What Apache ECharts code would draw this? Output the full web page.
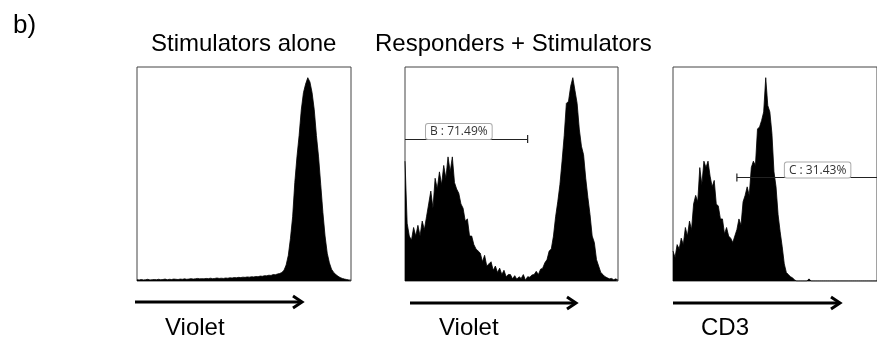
<!DOCTYPE html>
<html><head><meta charset="utf-8">
<script src="https://cdn.jsdelivr.net/npm/echarts@6/dist/echarts.min.js"></script>
<style>html,body{margin:0;padding:0;background:#fff}#c{width:877px;height:339px}</style>
</head><body><div id="c"></div>
<script>
// ---- data ----
const panelLetter = 'b)';
const panelTitles = ['Stimulators alone', 'Responders + Stimulators'];
const axisNames = ['Violet', 'Violet', 'CD3'];
const bins = Array.from({length: 100}, (_, i) => String(i));

// Stimulators alone (Violet) – normalised counts per channel
const stimAlone = [
  0.006,0.005,0.007,0.005,0.006,0.008,0.005,0.006,0.007,0.006,
  0.008,0.006,0.007,0.009,0.006,0.008,0.007,0.009,0.008,0.007,
  0.009,0.008,0.010,0.008,0.009,0.011,0.009,0.010,0.012,0.010,
  0.011,0.010,0.012,0.011,0.013,0.011,0.012,0.014,0.012,0.013,
  0.012,0.014,0.013,0.015,0.014,0.016,0.015,0.017,0.016,0.018,
  0.017,0.019,0.018,0.020,0.019,0.021,0.020,0.023,0.022,0.025,
  0.024,0.027,0.026,0.030,0.029,0.033,0.035,0.040,0.050,0.075,
  0.12,0.20,0.30,0.46,0.58,0.68,0.80,0.88,0.92,0.95,
  0.93,0.88,0.80,0.68,0.58,0.45,0.32,0.21,0.13,0.085,
  0.055,0.040,0.030,0.022,0.016,0.012,0.009,0.007,0.005,0.004
];
// Responders + Stimulators (Violet)
const respViolet = [
  0.56,0.27,0.21,0.19,0.25,0.21,0.26,0.21,0.28,0.24,
  0.30,0.36,0.42,0.34,0.48,0.43,0.51,0.45,0.54,0.48,
  0.58,0.51,0.58,0.46,0.43,0.41,0.36,0.34,0.28,0.29,
  0.21,0.21,0.17,0.15,0.14,0.13,0.09,0.12,0.07,0.08,
  0.09,0.05,0.07,0.04,0.06,0.03,0.05,0.02,0.03,0.03,
  0.01,0.025,0.008,0.02,0.012,0.03,0.004,0.02,0.018,0.028,
  0.03,0.045,0.03,0.055,0.06,0.085,0.10,0.14,0.15,0.21,
  0.30,0.37,0.45,0.56,0.68,0.83,0.84,0.91,0.95,0.89,
  0.83,0.71,0.63,0.59,0.48,0.39,0.31,0.21,0.18,0.10,
  0.07,0.04,0.03,0.02,0.015,0.01,0.012,0.006,0.01,0.004
];
// Responders + Stimulators (CD3)
const respCD3 = [
  0.14,0.11,0.17,0.15,0.20,0.17,0.25,0.21,0.28,0.24,
  0.36,0.40,0.37,0.53,0.45,0.56,0.53,0.56,0.49,0.44,
  0.47,0.36,0.35,0.29,0.29,0.22,0.25,0.21,0.20,0.18,
  0.21,0.24,0.29,0.26,0.37,0.40,0.44,0.40,0.53,0.56,
  0.54,0.71,0.72,0.75,0.79,0.95,0.82,0.79,0.69,0.51,
  0.44,0.31,0.23,0.16,0.08,0.04,0.03,0.02,0.015,0.005,
  0,0,0,0,0,0,0.01,0,0,0,
  0,0,0,0,0,0,0,0,0,0,
  0,0,0,0,0,0,0,0,0,0,
  0,0,0,0,0,0,0,0,0,0
];
// gates: [label, start bin, end bin, level]
const gateB = ['B : 71.49%', 0, 57, 0.664];
const gateC = ['C : 31.43%', 31, 99, 0.484];

// ---- chart ----
const chart = echarts.init(document.getElementById('c'), null, {renderer: 'canvas'});
const grids = [
  {left: 137, top: 67, width: 214, height: 214},
  {left: 405, top: 67, width: 213, height: 214},
  {left: 673, top: 67, width: 214, height: 214}
];
const series = [stimAlone, respViolet, respCD3];
const gates = [null, gateB, gateC];
const gateLabelShift = [null, [21, 0], [48, 0]];

const labelStyle = {
  show: true, position: 'insideStartTop',
  fontFamily: 'Open Sans', fontSize: 12, color: '#333',
  backgroundColor: '#fff', borderColor: '#aaa', borderWidth: 1, borderRadius: 2,
  padding: [2, 4, 1, 4]
};

function gateMarkLine(g, shift) {
  if (!g) return undefined;
  const isB = g === gateB;
  return {
    silent: true, animation: false,
    symbolSize: [8, 1.2],
    lineStyle: {color: '#222', width: 1, type: 'solid'},
    label: Object.assign({}, labelStyle, {formatter: g[0], distance: shift}),
    data: [[
      {coord: [g[1], g[3]], symbol: isB ? 'none' : 'rect'},
      {coord: [g[2], g[3]], symbol: isB ? 'rect' : 'none'}
    ]]
  };
}

const textStyleBig = {fontFamily: 'Liberation Sans', fontWeight: 'normal', color: '#000', fontSize: 24};
const titles = [
  {text: panelLetter, left: 13, top: 13, padding: 0, textStyle: Object.assign({}, textStyleBig, {fontSize: 26})},
  {text: panelTitles[0], left: 151, top: 32, padding: 0, textStyle: textStyleBig},
  {text: panelTitles[1], left: 375, top: 32, padding: 0, textStyle: textStyleBig},
  {text: axisNames[0], left: 165, top: 316, padding: 0, textStyle: textStyleBig},
  {text: axisNames[1], left: 439, top: 316, padding: 0, textStyle: textStyleBig},
  {text: axisNames[2], left: 701, top: 316, padding: 0, textStyle: textStyleBig}
];

function arrow(x1, x2, y) {
  return [
    {type: 'line', silent: true, shape: {x1: x1, y1: y, x2: x2 - 1, y2: y}, style: {stroke: '#000', lineWidth: 3}},
    {type: 'polyline', silent: true, shape: {points: [[x2 - 9, y - 6], [x2, y], [x2 - 9, y + 6]]}, style: {stroke: '#000', lineWidth: 3, fill: null}}
  ];
}

chart.setOption({
  animation: false,
  backgroundColor: '#fff',
  title: titles,
  grid: grids.map(g => Object.assign({show: true, borderColor: '#444', borderWidth: 1, backgroundColor: 'transparent'}, g)),
  xAxis: grids.map((g, i) => ({type: 'category', gridIndex: i, data: bins, boundaryGap: false, show: false})),
  yAxis: grids.map((g, i) => ({type: 'value', gridIndex: i, min: 0, max: 1, show: false})),
  series: series.map((d, i) => ({
    type: 'line', xAxisIndex: i, yAxisIndex: i, data: d,
    symbol: 'none', smooth: false,
    lineStyle: {color: '#000', width: 0.8},
    areaStyle: {color: '#000', opacity: 1},
    markLine: gateMarkLine(gates[i], gateLabelShift[i])
  })),
  graphic: [].concat(arrow(135, 302, 302), arrow(410, 576, 303), arrow(673, 840, 303))
});
</script>
</body></html>
